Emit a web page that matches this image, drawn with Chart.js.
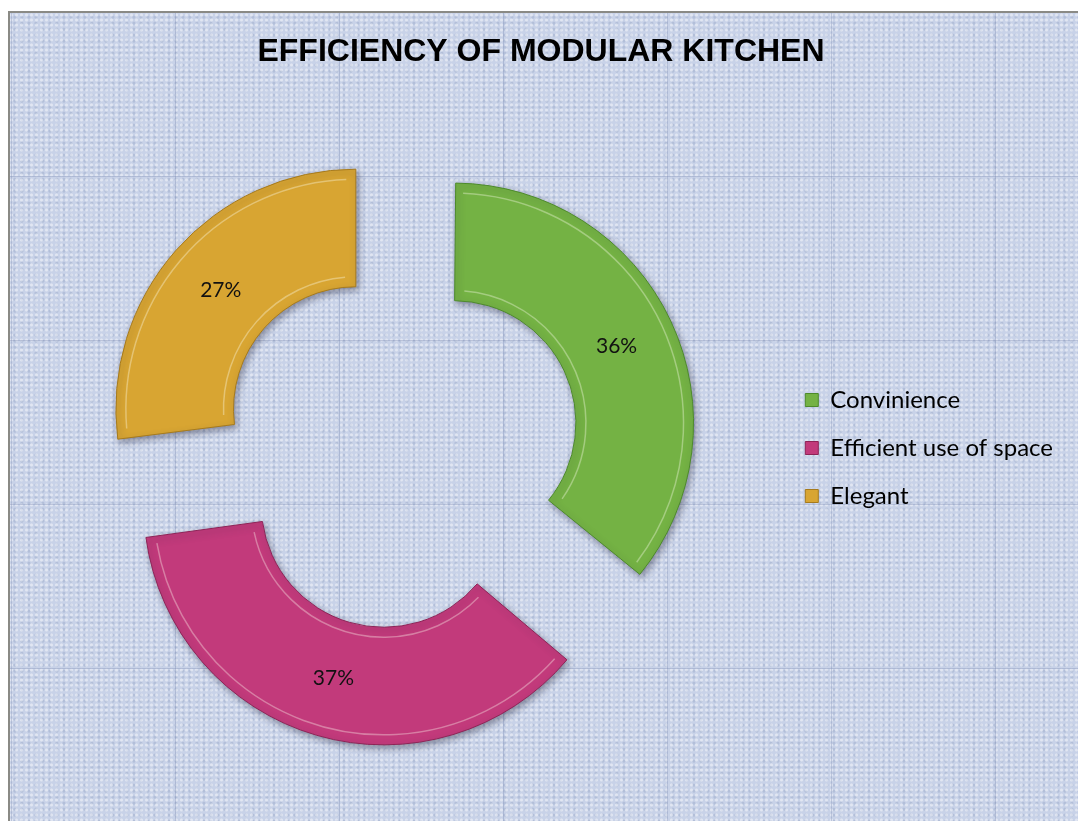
<!DOCTYPE html>
<html>
<head>
<meta charset="utf-8">
<title>Efficiency of Modular Kitchen</title>
<script src="https://cdn.jsdelivr.net/npm/chart.js@4.4.1/dist/chart.umd.min.js"></script>
<style>
    html, body { margin: 0; padding: 0; background: #ffffff; }
    #frame {
        position: absolute;
        left: 8px; top: 11px;
        width: 1070px; height: 810px;
        border-left: 2px solid #8a8a85;
        border-top: 2px solid #8a8a85;
        box-sizing: border-box;
        background-color: #c8d2e8;
        background-image:
            linear-gradient(90deg, rgba(120,135,175,.35) 1px, transparent 1px),
            linear-gradient(0deg, rgba(120,135,175,.35) 1px, transparent 1px),
            radial-gradient(circle at 30% 40%, rgba(255,255,255,.45) 1px, transparent 2px),
            radial-gradient(circle at 70% 70%, rgba(140,155,190,.35) 1px, transparent 2px);
        background-size: 164px 164px, 164px 164px, 5px 5px, 7px 6px;
        background-position: 165px 0, 0 0, 0 0, 0 0;
    }
    #frame canvas { position: absolute; left: -2px; top: -2px; }
</style>
</head>
<body>
<div id="frame"><canvas id="doughnut-chart" width="1070" height="810"></canvas></div>
<script>
    "use strict";

    // Veriler
    var labels = ["Convinience", "Efficient use of space", "Elegant"];
    var values = [36, 37, 27];
    var colors = ["#74b244", "#c23a7b", "#d8a532"];
    var edges = ["#4d8a2a", "#8e2356", "#a67a1c"];

    // Chart.js dar dilimlerde yarıçapı offset kadar büyütüyor, bunu geri al
    var keepRadius = {
        id: 'keepRadius',
        afterDatasetUpdate: function (chart, args) {
            var meta = chart.getDatasetMeta(args.index);
            meta.data.forEach(function (arc) {
                var circ = arc.endAngle - arc.startAngle;
                var fix = 1 - Math.sin(Math.min(Math.PI, circ));
                var radiusOffset = (arc.options.offset || 0) / 4 * fix;
                arc.outerRadius -= radiusOffset;
                arc.innerRadius -= radiusOffset;
            });
        }
    };

    // Gölge
    var sliceShadow = {
        id: 'sliceShadow',
        beforeDatasetsDraw: function (chart) {
            var ctx = chart.ctx;
            ctx.save();
            ctx.shadowColor = 'rgba(40,40,60,0.45)';
            ctx.shadowBlur = 7;
            ctx.shadowOffsetX = 2;
            ctx.shadowOffsetY = 3;
        },
        afterDatasetsDraw: function (chart) {
            chart.ctx.restore();
        }
    };

    // Kabartma çizgisi + yüzde etiketleri
    var sliceLabels = {
        id: 'sliceLabels',
        afterDatasetsDraw: function (chart) {
            var ctx = chart.ctx;
            var meta = chart.getDatasetMeta(0);
            ctx.save();
            meta.data.forEach(function (arc, i) {
                var mid = (arc.startAngle + arc.endAngle) / 2;
                var fix = 1 - Math.sin(Math.min(Math.PI, arc.endAngle - arc.startAngle));
                var off = arc.options.offset / 4;
                var ox = arc.x + Math.cos(mid) * off;
                var oy = arc.y + Math.sin(mid) * off;
                var rOut = arc.outerRadius + off * fix;
                var rIn = arc.innerRadius + off * fix;

                // ince açık renkli iç çizgi
                ctx.strokeStyle = 'rgba(255,255,240,0.35)';
                ctx.lineWidth = 1.5;
                ctx.beginPath();
                ctx.arc(ox, oy, rOut - 10, arc.startAngle + 10 / rOut, arc.endAngle - 10 / rOut);
                ctx.stroke();
                ctx.beginPath();
                ctx.arc(ox, oy, rIn + 10, arc.startAngle + 10 / rIn, arc.endAngle - 10 / rIn);
                ctx.stroke();

                var rr = off + off * fix + (arc.innerRadius + arc.outerRadius) / 2 - 1;
                ctx.font = '21px Lato';
                ctx.fillStyle = '#111111';
                ctx.textAlign = 'center';
                ctx.textBaseline = 'middle';
                ctx.fillText(values[i] + '%', arc.x + Math.cos(mid) * rr, arc.y + Math.sin(mid) * rr);
            });
            ctx.restore();
        }
    };

    var ctx = document.getElementById('doughnut-chart').getContext('2d');
    var myChart = new Chart(ctx, {
        type: 'doughnut',
        data: {
            labels: labels,
            datasets: [{
                data: values,
                backgroundColor: colors,
                borderColor: edges,
                borderWidth: 1,
                offset: 236
            }]
        },
        options: {
            responsive: false,
            animation: false,
            radius: 240,
            cutout: '51%',
            layout: { padding: { left: 11, right: 15, top: 0, bottom: 3 } },
            plugins: {
                title: {
                    display: true,
                    text: 'EFFICIENCY OF MODULAR KITCHEN',
                    color: '#000000',
                    font: { family: 'Liberation Sans', size: 32, weight: 'bold' },
                    padding: { top: 22, bottom: 7 }
                },
                legend: {
                    position: 'right',
                    title: {
                        display: true,
                        text: '',
                        font: { size: 12 },
                        padding: { top: 0, bottom: 52.6 }
                    },
                    labels: {
                        color: '#000000',
                        font: { family: 'Lato', size: 24 },
                        boxWidth: 13,
                        boxHeight: 13,
                        padding: 24
                    }
                },
                tooltip: { enabled: false }
            }
        },
        plugins: [keepRadius, sliceShadow, sliceLabels]
    });
</script>
</body>
</html>
